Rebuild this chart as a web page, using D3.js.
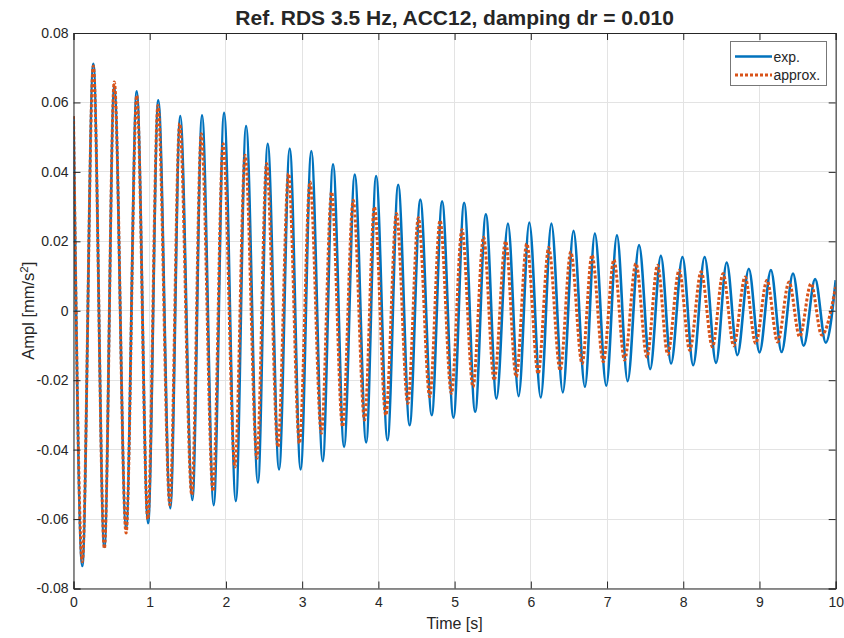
<!DOCTYPE html>
<html>
<head>
<meta charset="utf-8">
<script src="https://cdn.jsdelivr.net/npm/d3@7/dist/d3.min.js"></script>
<style>
  html, body { margin: 0; padding: 0; background: #fff; }
  text { font-family: "Liberation Sans", Arial, Helvetica, sans-serif; fill: #262626; }
</style>
</head>
<body>
<svg id="chart" width="844" height="638"></svg>
<script>
// ---- Data (turning points of each signal) ----
const titleText = "Ref. RDS 3.5 Hz, ACC12, damping dr = 0.010";
const xLabel = "Time [s]";
const seriesNames = ["exp.", "approx."];
const xTicks = [0, 1, 2, 3, 4, 5, 6, 7, 8, 9, 10];
const yTicks = [-0.08, -0.06, -0.04, -0.02, 0, 0.02, 0.04, 0.06, 0.08];
const yTickLabels = ["-0.08", "-0.06", "-0.04", "-0.02", "0", "0.02", "0.04", "0.06", "0.08"];

const expTime = [0, 0.115, 0.26, 0.405, 0.535, 0.69, 0.83, 0.978, 1.113, 1.27, 1.40, 1.56, 1.686, 1.84, 1.975, 2.13, 2.264, 2.42, 2.548, 2.697, 2.837, 2.98, 3.12, 3.27, 3.405, 3.55, 3.69, 3.84, 3.97, 4.12, 4.26, 4.41, 4.55, 4.70, 4.836, 4.985, 5.125, 5.27, 5.41, 5.55, 5.70, 5.84, 5.98, 6.13, 6.27, 6.42, 6.56, 6.71, 6.84, 6.99, 7.13, 7.27, 7.42, 7.566, 7.706, 7.84, 7.99, 8.13, 8.28, 8.43, 8.57, 8.71, 8.86, 9.0, 9.15, 9.29, 9.44, 9.58, 9.73, 9.87, 10];
const expAmpl = [0.056, -0.0735, 0.0711, -0.068, 0.0644, -0.0627, 0.0632, -0.0612, 0.0606, -0.0569, 0.0561, -0.0545, 0.0563, -0.056, 0.057, -0.0548, 0.0532, -0.0495, 0.0481, -0.0457, 0.0467, -0.0457, 0.046, -0.0433, 0.0422, -0.0392, 0.0392, -0.0379, 0.0388, -0.0373, 0.0363, -0.033, 0.032, -0.0301, 0.0315, -0.0308, 0.0311, -0.0291, 0.0278, -0.0253, 0.0251, -0.0246, 0.0254, -0.025, 0.0251, -0.0235, 0.023, -0.0219, 0.0222, -0.0216, 0.0217, -0.0203, 0.0189, -0.0168, 0.0158, -0.0152, 0.0155, -0.0157, 0.0155, -0.015, 0.0139, -0.0128, 0.0121, -0.012, 0.0117, -0.0119, 0.0107, -0.0101, 0.0091, -0.0092, 0.0088];

const approxTime = [0, 0.115, 0.26, 0.405, 0.535, 0.69, 0.83, 0.975, 1.108, 1.264, 1.393, 1.552, 1.677, 1.83, 1.964, 2.118, 2.252, 2.407, 2.534, 2.682, 2.821, 2.964, 3.103, 3.252, 3.386, 3.53, 3.67, 3.819, 3.948, 4.097, 4.237, 4.386, 4.525, 4.674, 4.809, 4.958, 5.097, 5.241, 5.38, 5.519, 5.669, 5.808, 5.947, 6.096, 6.235, 6.385, 6.524, 6.673, 6.802, 6.951, 7.09, 7.23, 7.379, 7.524, 7.663, 7.796, 7.946, 8.085, 8.234, 8.383, 8.522, 8.662, 8.811, 8.95, 9.099, 9.238, 9.388, 9.527, 9.676, 9.816, 10];
const approxAmpl = [0.056, -0.0723, 0.0705, -0.0684, 0.0659, -0.064, 0.062, -0.060, 0.0591, -0.0559, 0.0539, -0.053, 0.051, -0.052, 0.0481, -0.045, 0.0448, -0.0425, 0.0424, -0.0392, 0.0395, -0.0382, 0.0371, -0.0353, 0.0342, -0.0334, 0.0318, -0.0315, 0.0299, -0.0301, 0.028, -0.0267, 0.0268, -0.0248, 0.026, -0.0238, 0.0234, -0.0219, 0.0212, -0.02, 0.02, -0.019, 0.0193, -0.0181, 0.0182, -0.0171, 0.0169, -0.0152, 0.016, -0.0147, 0.0147, -0.0142, 0.0136, -0.0133, 0.0131, -0.0125, 0.0117, -0.0114, 0.0112, -0.0104, 0.0107, -0.0101, 0.0097, -0.0094, 0.0088, -0.009, 0.0083, -0.0075, 0.0078, -0.007, 0.0069];

// ---- Layout ----
const W = 844, H = 638;
const m = { left: 73.5, right: 844 - 835.7, top: 33, bottom: 638 - 588.5 };
const svg = d3.select("#chart");
const x = d3.scaleLinear().domain([0, 10]).range([m.left, W - m.right]);
const y = d3.scaleLinear().domain([-0.08, 0.08]).range([H - m.bottom, m.top]);
const axisColor = "#262626";
const tickLen = 7;

// grid
const g = svg.append("g");
g.selectAll(".gx").data(xTicks).enter().append("line")
  .attr("x1", d => x(d)).attr("x2", d => x(d))
  .attr("y1", y(-0.08)).attr("y2", y(0.08))
  .attr("stroke", "#e3e3e3").attr("stroke-width", 1).attr("shape-rendering", "crispEdges");
g.selectAll(".gy").data(yTicks).enter().append("line")
  .attr("x1", x(0)).attr("x2", x(10))
  .attr("y1", d => y(d)).attr("y2", d => y(d))
  .attr("stroke", "#e3e3e3").attr("stroke-width", 1).attr("shape-rendering", "crispEdges");

// series
const pts = (t, v) => t.map((d, i) => [d, v[i]]);
const line = d3.line().x(d => x(d[0])).y(d => y(d[1])).curve(d3.curveMonotoneX);
svg.append("clipPath").attr("id", "clip").append("rect")
  .attr("x", x(0)).attr("y", y(0.08)).attr("width", x(10) - x(0)).attr("height", y(-0.08) - y(0.08));
svg.append("path").datum(pts(expTime, expAmpl))
  .attr("d", line).attr("fill", "none").attr("stroke", "#0072BD")
  .attr("stroke-width", 2.6).attr("stroke-linejoin", "round").attr("clip-path", "url(#clip)");
svg.append("path").datum(pts(approxTime, approxAmpl))
  .attr("d", line).attr("fill", "none").attr("stroke", "#D95319")
  .attr("stroke-width", 3).attr("stroke-dasharray", "3,2").attr("clip-path", "url(#clip)");

// axes (box with inward ticks)
const xAxisB = d3.axisBottom(x).tickValues(xTicks).tickSize(-tickLen).tickPadding(9).tickFormat(d3.format("d"));
const xAxisT = d3.axisTop(x).tickValues(xTicks).tickSize(-tickLen).tickFormat("");
const yAxisL = d3.axisLeft(y).tickValues(yTicks).tickSize(-tickLen).tickPadding(5)
  .tickFormat((d, i) => yTickLabels[i]);
const yAxisR = d3.axisRight(y).tickValues(yTicks).tickSize(-tickLen).tickFormat("");

function style(sel) {
  sel.selectAll("path.domain").attr("stroke", axisColor).attr("stroke-width", 1);
  sel.selectAll(".tick line").attr("stroke", axisColor).attr("stroke-width", 1);
  sel.selectAll(".tick text").attr("fill", axisColor).style("font-size", "14px")
    .style("font-family", '"Liberation Sans", Arial, sans-serif');
}
svg.append("g").attr("transform", `translate(0,${y(-0.08)})`).call(xAxisB).call(style);
svg.append("g").attr("transform", `translate(0,${y(0.08)})`).call(xAxisT).call(style);
svg.append("g").attr("transform", `translate(${x(0)},0)`).call(yAxisL).call(style);
svg.append("g").attr("transform", `translate(${x(10)},0)`).call(yAxisR).call(style);

// title
svg.append("text").attr("x", (x(0) + x(10)) / 2).attr("y", 25)
  .attr("text-anchor", "middle").style("font-size", "21px").style("font-weight", "bold")
  .attr("fill", "#000").text(titleText);

// axis labels
svg.append("text").attr("x", (x(0) + x(10)) / 2).attr("y", 629)
  .attr("text-anchor", "middle").style("font-size", "16px").text(xLabel);
const yl = svg.append("text").attr("transform", `translate(34,${(y(0.08) + y(-0.08)) / 2}) rotate(-90)`)
  .attr("text-anchor", "middle").style("font-size", "16.5px");
yl.append("tspan").text("Ampl [mm/s");
yl.append("tspan").attr("baseline-shift", "super").style("font-size", "11.5px").text("2");
yl.append("tspan").text("]");

// legend
const lg = svg.append("g");
lg.append("rect").attr("x", 730.5).attr("y", 41.5).attr("width", 96).attr("height", 44)
  .attr("fill", "#fff").attr("stroke", "#777").attr("stroke-width", 1);
const legendItems = [
  { name: seriesNames[0], color: "#0072BD", dash: null, w: 2.6 },
  { name: seriesNames[1], color: "#D95319", dash: "3,2", w: 3 }
];
legendItems.forEach((it, i) => {
  const yy = 56.5 + i * 18.5;
  lg.append("line").attr("x1", 735).attr("x2", 772).attr("y1", yy).attr("y2", yy)
    .attr("stroke", it.color).attr("stroke-width", it.w).attr("stroke-dasharray", it.dash);
  lg.append("text").attr("x", 773.5).attr("y", yy + 5).style("font-size", "14px").text(it.name);
});
</script>
</body>
</html>
